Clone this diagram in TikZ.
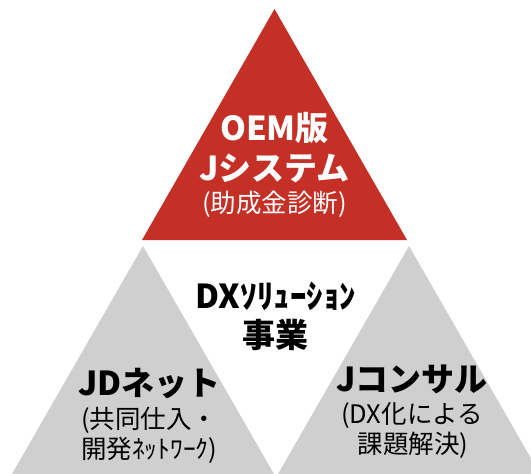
\documentclass[tikz,border=0pt]{standalone}
\usepackage{fontspec}
\usepackage{xcolor}
\setmainfont{Noto Sans CJK JP}
\definecolor{oemred}{HTML}{C42F26}
\definecolor{sidegray}{HTML}{D0CFD0}
\tikzset{tri/.style={draw=none},
    redtri/.style={tri,fill=oemred},
    graytri/.style={tri,fill=sidegray},
    head/.style={font=\bfseries\fontsize{33}{33}\selectfont,inner sep=0pt},
    sub/.style={font=\fontsize{25.5}{25.5}\selectfont,inner sep=0pt},
    x=1pt,y=-1pt}

\begin{document}
\begin{tikzpicture}
\useasboundingbox (0,0) rectangle (531,474);
% triangles
\coordinate (rtop) at (274.5,9);
\coordinate (rl) at (142,240);
\coordinate (rr) at (407,240);
\coordinate (ltop) at (143,246);
\coordinate (ll) at (12,474);
\coordinate (lr) at (274,474);
\coordinate (gtop) at (409,246);
\coordinate (gl) at (278,474);
\coordinate (gr) at (540,474);
\fill[redtri] (rtop) -- (rr) -- (rl) -- cycle;
\fill[graytri] (ltop) -- (lr) -- (ll) -- cycle;
\begin{scope}
\clip (0,0) rectangle (531,474);
\fill[graytri] (gtop) -- (gr) -- (gl) -- cycle;
\end{scope}
% top
\node[head,text=white] (oem) at (274.5,128) {OEM版};
\node[head,text=white] (jsys) at (274.5,168) {Jシステム};
\node[sub,text=white] (josei) at (274.5,204) {(助成金診断)};
% middle
\node[head] (dx) at (276,296) {DXｿﾘｭｰｼｮﾝ};
\node[head] (jigyo) at (275,335) {事業};
% left
\node[head,anchor=west] (jd) at (78,384) {JDネット};
\node[sub,anchor=west] (kyodo) at (81,420) {(共同仕入・};
\node[sub,anchor=west] (kaihatsu) at (81,450) {開発ﾈｯﾄﾜｰｸ)};
% right
\node[head] (jcon) at (412,379) {Jコンサル};
\node[sub] (dxka) at (412,415) {(DX化による};
\node[sub] (kadai) at (413,445) {課題解決)};
\end{tikzpicture}
\end{document}
